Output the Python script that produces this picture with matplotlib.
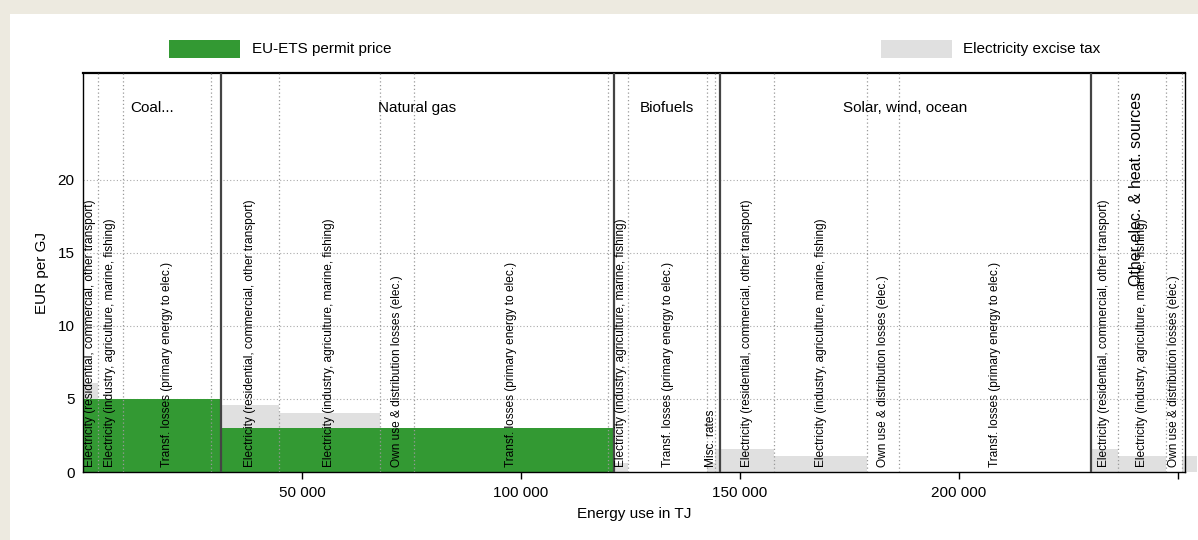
import numpy as np
import matplotlib
matplotlib.use("Agg")
import matplotlib.pyplot as plt
from matplotlib.patches import Rectangle

plt.rcParams['font.family'] = ['Liberation Sans', 'DejaVu Sans']

# ---------------- data ----------------
group_names = ["Coal...", "Natural gas", "Biofuels", "Solar, wind, ocean", "Other elec. & heat. sources"]

RES = "Electricity (residential, commercial, other transport)"
IND = "Electricity (industry, agriculture, marine, fishing)"
OWN = "Own use & distribution losses (elec.)"
TRF = "Transf. losses (primary energy to elec.)"
MISC = "Misc. rates"

seg_group = [0, 0, 0, 0,
             1, 1, 1, 1, 1,
             2, 2, 2, 2,
             3, 3, 3, 3,
             4, 4, 4, 4]
seg_labels = [RES, IND, TRF, "",
              RES, IND, OWN, TRF, "",
              IND, TRF, MISC, "",
              RES, IND, OWN, TRF,
              RES, IND, OWN, ""]
seg_energy = [3420, 5710, 20070, 2300,
              13200, 23100, 7800, 44300, 1300,
              3200, 18100, 1800, 1100,
              12400, 21200, 7300, 43800,
              6200, 11000, 3600, 3400]
ets_price = [5.0, 5.0, 5.0, 5.0,
             3.0, 3.0, 3.0, 3.0, 3.0,
             0, 0, 0, 0,
             0, 0, 0, 0,
             0, 0, 0, 0]
excise_tax = [1.1, 0.0, 0.0, 0.0,
              1.6, 1.05, 0.0, 0.0, 0.0,
              0.6, 0.0, 0.6, 1.6,
              1.6, 1.1, 0.0, 0.0,
              1.6, 1.1, 0.0, 1.1]

x_ticks = [50000, 100000, 150000, 200000, 250000]
x_ticklabels = ["50 000", "100 000", "150 000", "200 000", ""]
y_ticks = [0, 5, 10, 15, 20]

GREEN = "#339933"
GREY = "#e0e0e0"

# ---------------- figure ----------------
W, H = 1198, 540
fig = plt.figure(figsize=(W / 100, H / 100), dpi=100)
fig.patch.set_facecolor("white")
beige = "#edeae0"
fig.patches.append(Rectangle((0, 1 - 14 / H), 1, 14 / H, transform=fig.transFigure,
                             facecolor=beige, edgecolor="none", zorder=-10))
fig.patches.append(Rectangle((0, 0), 10 / W, 1, transform=fig.transFigure,
                             facecolor=beige, edgecolor="none", zorder=-10))

ax = fig.add_axes([83 / W, (H - 472) / H, (1185 - 83) / W, (472 - 73) / H])
ax.set_xlim(0, 251600)
ax.set_ylim(0, 27.3)

energy = np.array(seg_energy, dtype=float)
lefts = np.concatenate([[0], np.cumsum(energy)[:-1]])
ets = np.array(ets_price)
exc = np.array(excise_tax)

ax.bar(lefts, ets, width=energy, align="edge", color=GREEN, linewidth=0, zorder=2, clip_on=False)
ax.bar(lefts, exc, width=energy, bottom=ets, align="edge", color=GREY, linewidth=0, zorder=2, clip_on=False)

# grid
for yv in [5, 10, 15, 20]:
    ax.axhline(yv, color="#aaaaaa", linestyle=(0, (1, 2)), linewidth=0.8, zorder=1)

# segment boundaries
groups = np.array(seg_group)
for i in range(1, len(energy)):
    xb = lefts[i]
    if groups[i] != groups[i - 1]:
        ax.axvline(xb, color="#444444", linewidth=1.6, zorder=4)
    else:
        ax.axvline(xb, color="#999999", linestyle=(0, (1, 2)), linewidth=0.9, zorder=3)

# segment labels
for i, lab in enumerate(seg_labels):
    if lab:
        ax.text(lefts[i] + energy[i] / 2, 0.33, lab, rotation=90, ha="center", va="bottom",
                fontsize=8.6, color="black", zorder=5)

# group titles
for g, name in enumerate(group_names):
    idx = np.where(groups == g)[0]
    g0 = lefts[idx[0]]
    g1 = lefts[idx[-1]] + energy[idx[-1]]
    if g == len(group_names) - 1:
        ax.text(240600, 19.4, name, rotation=90, ha="center", va="center", fontsize=11.5, zorder=5)
    else:
        ax.text((g0 + g1) / 2, 24.9, name, ha="center", va="center", fontsize=11, zorder=5)

# axes styling
for s in ax.spines.values():
    s.set_color("black")
    s.set_linewidth(1.0)
ax.spines["top"].set_linewidth(1.6)
ax.set_xticks(x_ticks)
ax.set_xticklabels(x_ticklabels, fontsize=11)
ax.set_yticks(y_ticks)
ax.set_yticklabels([str(v) for v in y_ticks], fontsize=11)
ax.tick_params(axis="x", length=5, width=1, direction="out", pad=5)
ax.tick_params(axis="y", length=0, pad=6)
ax.set_xlabel("Energy use in TJ", fontsize=11, labelpad=5)
ax.set_ylabel("EUR per GJ", fontsize=11, labelpad=6)

# legend (manual, above plot)
fig.patches.append(Rectangle((169 / W, 1 - 58 / H), 71 / W, 18 / H, transform=fig.transFigure,
                             facecolor=GREEN, edgecolor="none"))
fig.text(252 / W, 1 - 49 / H, "EU-ETS permit price", fontsize=11, va="center", ha="left")
fig.patches.append(Rectangle((881 / W, 1 - 58 / H), 71 / W, 18 / H, transform=fig.transFigure,
                             facecolor=GREY, edgecolor="none"))
fig.text(963 / W, 1 - 49 / H, "Electricity excise tax", fontsize=11, va="center", ha="left")

fig.savefig("out.png", dpi=100)
